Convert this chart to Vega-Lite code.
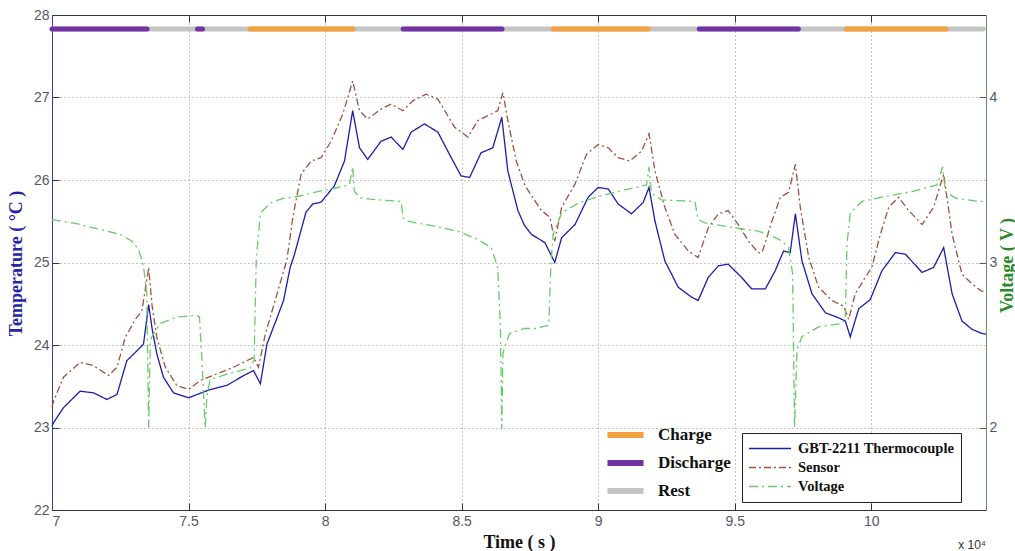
{
  "$schema": "https://vega.github.io/schema/vega-lite/v6.json",
  "width": 934,
  "height": 495,
  "autosize": {"type": "none"},
  "padding": {"left": 52, "top": 15, "right": 29, "bottom": 41},
  "background": "white",
  "config": {
    "view": {"stroke": null},
    "axis": {
      "labelFont": "Liberation Sans",
      "labelFontSize": 14,
      "labelColor": "#55556a",
      "gridColor": "#888888",
      "gridDash": [1, 3],
      "gridWidth": 1,
      "tickColor": "#333333",
      "tickSize": -7,
      "domainColor": "#333333",
      "titleFont": "Liberation Serif",
      "titleFontWeight": "bold",
      "titleFontSize": 18
    },
    "legend": {
      "labelFont": "Liberation Serif",
      "labelFontWeight": "bold",
      "labelColor": "#111111"
    }
  },
  "title": {
    "text": "x 10⁴",
    "orient": "bottom",
    "anchor": "end",
    "frame": "group",
    "font": "Liberation Sans",
    "fontSize": 12,
    "fontWeight": "normal",
    "color": "#333333",
    "offset": -11
  },
  "datasets": {
    "phases": [
      {"phase": "Rest", "start": 70000, "end": 104100},
      {"phase": "Discharge", "start": 70000, "end": 73480},
      {"phase": "Discharge", "start": 75330, "end": 75510},
      {"phase": "Charge", "start": 77250, "end": 81030},
      {"phase": "Discharge", "start": 82860, "end": 86480},
      {"phase": "Charge", "start": 88350, "end": 91830},
      {"phase": "Discharge", "start": 93700, "end": 97330},
      {"phase": "Charge", "start": 99080, "end": 102750}
    ],
    "temps": [
      {"time": 70000, "series": "GBT-2211 Thermocouple", "temp": 23.02},
      {"time": 70060, "series": "GBT-2211 Thermocouple", "temp": 23.06},
      {"time": 70420, "series": "GBT-2211 Thermocouple", "temp": 23.24},
      {"time": 71030, "series": "GBT-2211 Thermocouple", "temp": 23.44},
      {"time": 71520, "series": "GBT-2211 Thermocouple", "temp": 23.42},
      {"time": 72010, "series": "GBT-2211 Thermocouple", "temp": 23.34},
      {"time": 72380, "series": "GBT-2211 Thermocouple", "temp": 23.40},
      {"time": 72740, "series": "GBT-2211 Thermocouple", "temp": 23.81},
      {"time": 73110, "series": "GBT-2211 Thermocouple", "temp": 23.93},
      {"time": 73350, "series": "GBT-2211 Thermocouple", "temp": 24.01},
      {"time": 73540, "series": "GBT-2211 Thermocouple", "temp": 24.49},
      {"time": 73660, "series": "GBT-2211 Thermocouple", "temp": 24.21},
      {"time": 73840, "series": "GBT-2211 Thermocouple", "temp": 23.89},
      {"time": 74080, "series": "GBT-2211 Thermocouple", "temp": 23.61},
      {"time": 74450, "series": "GBT-2211 Thermocouple", "temp": 23.42},
      {"time": 75000, "series": "GBT-2211 Thermocouple", "temp": 23.36},
      {"time": 75310, "series": "GBT-2211 Thermocouple", "temp": 23.40},
      {"time": 75790, "series": "GBT-2211 Thermocouple", "temp": 23.46},
      {"time": 76400, "series": "GBT-2211 Thermocouple", "temp": 23.51},
      {"time": 77020, "series": "GBT-2211 Thermocouple", "temp": 23.63},
      {"time": 77380, "series": "GBT-2211 Thermocouple", "temp": 23.69},
      {"time": 77630, "series": "GBT-2211 Thermocouple", "temp": 23.53},
      {"time": 77870, "series": "GBT-2211 Thermocouple", "temp": 24.01},
      {"time": 78240, "series": "GBT-2211 Thermocouple", "temp": 24.33},
      {"time": 78480, "series": "GBT-2211 Thermocouple", "temp": 24.54},
      {"time": 78720, "series": "GBT-2211 Thermocouple", "temp": 24.94},
      {"time": 78880, "series": "GBT-2211 Thermocouple", "temp": 25.10},
      {"time": 79300, "series": "GBT-2211 Thermocouple", "temp": 25.61},
      {"time": 79550, "series": "GBT-2211 Thermocouple", "temp": 25.71},
      {"time": 79850, "series": "GBT-2211 Thermocouple", "temp": 25.73},
      {"time": 80340, "series": "GBT-2211 Thermocouple", "temp": 25.93},
      {"time": 80710, "series": "GBT-2211 Thermocouple", "temp": 26.23},
      {"time": 81010, "series": "GBT-2211 Thermocouple", "temp": 26.84},
      {"time": 81260, "series": "GBT-2211 Thermocouple", "temp": 26.39},
      {"time": 81560, "series": "GBT-2211 Thermocouple", "temp": 26.25},
      {"time": 82050, "series": "GBT-2211 Thermocouple", "temp": 26.47},
      {"time": 82420, "series": "GBT-2211 Thermocouple", "temp": 26.52},
      {"time": 82850, "series": "GBT-2211 Thermocouple", "temp": 26.37},
      {"time": 83150, "series": "GBT-2211 Thermocouple", "temp": 26.58},
      {"time": 83640, "series": "GBT-2211 Thermocouple", "temp": 26.68},
      {"time": 84130, "series": "GBT-2211 Thermocouple", "temp": 26.58},
      {"time": 84620, "series": "GBT-2211 Thermocouple", "temp": 26.27},
      {"time": 84980, "series": "GBT-2211 Thermocouple", "temp": 26.05},
      {"time": 85290, "series": "GBT-2211 Thermocouple", "temp": 26.03},
      {"time": 85710, "series": "GBT-2211 Thermocouple", "temp": 26.33},
      {"time": 86140, "series": "GBT-2211 Thermocouple", "temp": 26.39},
      {"time": 86470, "series": "GBT-2211 Thermocouple", "temp": 26.76},
      {"time": 86690, "series": "GBT-2211 Thermocouple", "temp": 26.11},
      {"time": 87060, "series": "GBT-2211 Thermocouple", "temp": 25.63},
      {"time": 87300, "series": "GBT-2211 Thermocouple", "temp": 25.45},
      {"time": 87560, "series": "GBT-2211 Thermocouple", "temp": 25.34},
      {"time": 88050, "series": "GBT-2211 Thermocouple", "temp": 25.24},
      {"time": 88410, "series": "GBT-2211 Thermocouple", "temp": 25.00},
      {"time": 88660, "series": "GBT-2211 Thermocouple", "temp": 25.30},
      {"time": 89150, "series": "GBT-2211 Thermocouple", "temp": 25.46},
      {"time": 89630, "series": "GBT-2211 Thermocouple", "temp": 25.79},
      {"time": 90000, "series": "GBT-2211 Thermocouple", "temp": 25.91},
      {"time": 90370, "series": "GBT-2211 Thermocouple", "temp": 25.89},
      {"time": 90730, "series": "GBT-2211 Thermocouple", "temp": 25.71},
      {"time": 91220, "series": "GBT-2211 Thermocouple", "temp": 25.59},
      {"time": 91650, "series": "GBT-2211 Thermocouple", "temp": 25.73},
      {"time": 91860, "series": "GBT-2211 Thermocouple", "temp": 25.91},
      {"time": 92080, "series": "GBT-2211 Thermocouple", "temp": 25.50},
      {"time": 92440, "series": "GBT-2211 Thermocouple", "temp": 25.02},
      {"time": 92930, "series": "GBT-2211 Thermocouple", "temp": 24.70},
      {"time": 93420, "series": "GBT-2211 Thermocouple", "temp": 24.58},
      {"time": 93660, "series": "GBT-2211 Thermocouple", "temp": 24.54},
      {"time": 94030, "series": "GBT-2211 Thermocouple", "temp": 24.82},
      {"time": 94400, "series": "GBT-2211 Thermocouple", "temp": 24.96},
      {"time": 94760, "series": "GBT-2211 Thermocouple", "temp": 24.98},
      {"time": 95250, "series": "GBT-2211 Thermocouple", "temp": 24.82},
      {"time": 95620, "series": "GBT-2211 Thermocouple", "temp": 24.68},
      {"time": 96120, "series": "GBT-2211 Thermocouple", "temp": 24.68},
      {"time": 96480, "series": "GBT-2211 Thermocouple", "temp": 24.90},
      {"time": 96790, "series": "GBT-2211 Thermocouple", "temp": 25.14},
      {"time": 97030, "series": "GBT-2211 Thermocouple", "temp": 25.12},
      {"time": 97220, "series": "GBT-2211 Thermocouple", "temp": 25.59},
      {"time": 97460, "series": "GBT-2211 Thermocouple", "temp": 25.02},
      {"time": 97830, "series": "GBT-2211 Thermocouple", "temp": 24.62},
      {"time": 98320, "series": "GBT-2211 Thermocouple", "temp": 24.39},
      {"time": 98800, "series": "GBT-2211 Thermocouple", "temp": 24.33},
      {"time": 99050, "series": "GBT-2211 Thermocouple", "temp": 24.29},
      {"time": 99230, "series": "GBT-2211 Thermocouple", "temp": 24.10},
      {"time": 99540, "series": "GBT-2211 Thermocouple", "temp": 24.44},
      {"time": 99960, "series": "GBT-2211 Thermocouple", "temp": 24.55},
      {"time": 100390, "series": "GBT-2211 Thermocouple", "temp": 24.90},
      {"time": 100880, "series": "GBT-2211 Thermocouple", "temp": 25.12},
      {"time": 101250, "series": "GBT-2211 Thermocouple", "temp": 25.10},
      {"time": 101860, "series": "GBT-2211 Thermocouple", "temp": 24.88},
      {"time": 102280, "series": "GBT-2211 Thermocouple", "temp": 24.94},
      {"time": 102650, "series": "GBT-2211 Thermocouple", "temp": 25.18},
      {"time": 102960, "series": "GBT-2211 Thermocouple", "temp": 24.62},
      {"time": 103320, "series": "GBT-2211 Thermocouple", "temp": 24.29},
      {"time": 103690, "series": "GBT-2211 Thermocouple", "temp": 24.19},
      {"time": 104050, "series": "GBT-2211 Thermocouple", "temp": 24.14},
      {"time": 104200, "series": "GBT-2211 Thermocouple", "temp": 24.13},
      {"time": 70000, "series": "Sensor", "temp": 23.25},
      {"time": 70060, "series": "Sensor", "temp": 23.32},
      {"time": 70420, "series": "Sensor", "temp": 23.61},
      {"time": 71030, "series": "Sensor", "temp": 23.79},
      {"time": 71520, "series": "Sensor", "temp": 23.75},
      {"time": 72070, "series": "Sensor", "temp": 23.63},
      {"time": 72380, "series": "Sensor", "temp": 23.73},
      {"time": 72680, "series": "Sensor", "temp": 24.09},
      {"time": 73050, "series": "Sensor", "temp": 24.31},
      {"time": 73290, "series": "Sensor", "temp": 24.41},
      {"time": 73540, "series": "Sensor", "temp": 24.94},
      {"time": 73660, "series": "Sensor", "temp": 24.49},
      {"time": 73840, "series": "Sensor", "temp": 24.09},
      {"time": 74150, "series": "Sensor", "temp": 23.73},
      {"time": 74570, "series": "Sensor", "temp": 23.51},
      {"time": 75000, "series": "Sensor", "temp": 23.46},
      {"time": 75430, "series": "Sensor", "temp": 23.57},
      {"time": 76040, "series": "Sensor", "temp": 23.65},
      {"time": 76650, "series": "Sensor", "temp": 23.73},
      {"time": 77380, "series": "Sensor", "temp": 23.85},
      {"time": 77560, "series": "Sensor", "temp": 23.73},
      {"time": 77810, "series": "Sensor", "temp": 24.13},
      {"time": 78240, "series": "Sensor", "temp": 24.62},
      {"time": 78600, "series": "Sensor", "temp": 25.03},
      {"time": 78820, "series": "Sensor", "temp": 25.55},
      {"time": 79120, "series": "Sensor", "temp": 26.07},
      {"time": 79490, "series": "Sensor", "temp": 26.23},
      {"time": 79850, "series": "Sensor", "temp": 26.27},
      {"time": 80220, "series": "Sensor", "temp": 26.47},
      {"time": 80650, "series": "Sensor", "temp": 26.80},
      {"time": 81010, "series": "Sensor", "temp": 27.20},
      {"time": 81260, "series": "Sensor", "temp": 26.84},
      {"time": 81560, "series": "Sensor", "temp": 26.74},
      {"time": 82050, "series": "Sensor", "temp": 26.86},
      {"time": 82420, "series": "Sensor", "temp": 26.92},
      {"time": 82850, "series": "Sensor", "temp": 26.84},
      {"time": 83210, "series": "Sensor", "temp": 26.96},
      {"time": 83700, "series": "Sensor", "temp": 27.04},
      {"time": 84130, "series": "Sensor", "temp": 26.98},
      {"time": 84740, "series": "Sensor", "temp": 26.64},
      {"time": 85230, "series": "Sensor", "temp": 26.52},
      {"time": 85590, "series": "Sensor", "temp": 26.72},
      {"time": 86080, "series": "Sensor", "temp": 26.80},
      {"time": 86320, "series": "Sensor", "temp": 26.84},
      {"time": 86510, "series": "Sensor", "temp": 27.06},
      {"time": 86690, "series": "Sensor", "temp": 26.72},
      {"time": 87000, "series": "Sensor", "temp": 26.23},
      {"time": 87300, "series": "Sensor", "temp": 25.95},
      {"time": 87440, "series": "Sensor", "temp": 25.87},
      {"time": 87920, "series": "Sensor", "temp": 25.63},
      {"time": 88230, "series": "Sensor", "temp": 25.55},
      {"time": 88410, "series": "Sensor", "temp": 25.26},
      {"time": 88660, "series": "Sensor", "temp": 25.67},
      {"time": 89150, "series": "Sensor", "temp": 25.95},
      {"time": 89570, "series": "Sensor", "temp": 26.31},
      {"time": 90000, "series": "Sensor", "temp": 26.43},
      {"time": 90370, "series": "Sensor", "temp": 26.39},
      {"time": 90730, "series": "Sensor", "temp": 26.27},
      {"time": 91160, "series": "Sensor", "temp": 26.23},
      {"time": 91590, "series": "Sensor", "temp": 26.35},
      {"time": 91860, "series": "Sensor", "temp": 26.56},
      {"time": 92080, "series": "Sensor", "temp": 26.11},
      {"time": 92440, "series": "Sensor", "temp": 25.67},
      {"time": 92810, "series": "Sensor", "temp": 25.34},
      {"time": 93300, "series": "Sensor", "temp": 25.14},
      {"time": 93660, "series": "Sensor", "temp": 25.06},
      {"time": 94030, "series": "Sensor", "temp": 25.42},
      {"time": 94400, "series": "Sensor", "temp": 25.59},
      {"time": 94760, "series": "Sensor", "temp": 25.63},
      {"time": 95130, "series": "Sensor", "temp": 25.46},
      {"time": 95500, "series": "Sensor", "temp": 25.26},
      {"time": 95860, "series": "Sensor", "temp": 25.12},
      {"time": 96000, "series": "Sensor", "temp": 25.12},
      {"time": 96360, "series": "Sensor", "temp": 25.50},
      {"time": 96670, "series": "Sensor", "temp": 25.79},
      {"time": 96970, "series": "Sensor", "temp": 25.85},
      {"time": 97220, "series": "Sensor", "temp": 26.19},
      {"time": 97400, "series": "Sensor", "temp": 25.67},
      {"time": 97710, "series": "Sensor", "temp": 25.06},
      {"time": 98070, "series": "Sensor", "temp": 24.70},
      {"time": 98560, "series": "Sensor", "temp": 24.54},
      {"time": 98990, "series": "Sensor", "temp": 24.47},
      {"time": 99170, "series": "Sensor", "temp": 24.31},
      {"time": 99410, "series": "Sensor", "temp": 24.62},
      {"time": 99780, "series": "Sensor", "temp": 24.82},
      {"time": 100020, "series": "Sensor", "temp": 24.94},
      {"time": 100330, "series": "Sensor", "temp": 25.34},
      {"time": 100640, "series": "Sensor", "temp": 25.67},
      {"time": 101000, "series": "Sensor", "temp": 25.79},
      {"time": 101370, "series": "Sensor", "temp": 25.63},
      {"time": 101860, "series": "Sensor", "temp": 25.46},
      {"time": 102280, "series": "Sensor", "temp": 25.67},
      {"time": 102650, "series": "Sensor", "temp": 26.07},
      {"time": 102960, "series": "Sensor", "temp": 25.34},
      {"time": 103320, "series": "Sensor", "temp": 24.86},
      {"time": 103690, "series": "Sensor", "temp": 24.74},
      {"time": 104000, "series": "Sensor", "temp": 24.66},
      {"time": 104200, "series": "Sensor", "temp": 24.64}
    ],
    "volt": [
      {"time": 70000, "series": "Voltage", "voltage": 3.26},
      {"time": 70910, "series": "Voltage", "voltage": 3.235},
      {"time": 71770, "series": "Voltage", "voltage": 3.20},
      {"time": 72500, "series": "Voltage", "voltage": 3.17},
      {"time": 72920, "series": "Voltage", "voltage": 3.13},
      {"time": 73170, "series": "Voltage", "voltage": 3.08},
      {"time": 73350, "series": "Voltage", "voltage": 2.98},
      {"time": 73470, "series": "Voltage", "voltage": 2.81},
      {"time": 73540, "series": "Voltage", "voltage": 2.00},
      {"time": 73600, "series": "Voltage", "voltage": 2.53},
      {"time": 73660, "series": "Voltage", "voltage": 2.55},
      {"time": 73960, "series": "Voltage", "voltage": 2.63},
      {"time": 74570, "series": "Voltage", "voltage": 2.67},
      {"time": 75310, "series": "Voltage", "voltage": 2.68},
      {"time": 75400, "series": "Voltage", "voltage": 2.67},
      {"time": 75490, "series": "Voltage", "voltage": 2.41},
      {"time": 75610, "series": "Voltage", "voltage": 2.00},
      {"time": 75670, "series": "Voltage", "voltage": 2.19},
      {"time": 75790, "series": "Voltage", "voltage": 2.29},
      {"time": 76530, "series": "Voltage", "voltage": 2.33},
      {"time": 77260, "series": "Voltage", "voltage": 2.36},
      {"time": 77400, "series": "Voltage", "voltage": 2.41},
      {"time": 77480, "series": "Voltage", "voltage": 3.02},
      {"time": 77630, "series": "Voltage", "voltage": 3.30},
      {"time": 77990, "series": "Voltage", "voltage": 3.36},
      {"time": 78480, "series": "Voltage", "voltage": 3.39},
      {"time": 79000, "series": "Voltage", "voltage": 3.40},
      {"time": 79730, "series": "Voltage", "voltage": 3.43},
      {"time": 80340, "series": "Voltage", "voltage": 3.45},
      {"time": 80890, "series": "Voltage", "voltage": 3.47},
      {"time": 81010, "series": "Voltage", "voltage": 3.58},
      {"time": 81070, "series": "Voltage", "voltage": 3.43},
      {"time": 81320, "series": "Voltage", "voltage": 3.39},
      {"time": 81930, "series": "Voltage", "voltage": 3.38},
      {"time": 82780, "series": "Voltage", "voltage": 3.37},
      {"time": 82860, "series": "Voltage", "voltage": 3.27},
      {"time": 83030, "series": "Voltage", "voltage": 3.25},
      {"time": 84000, "series": "Voltage", "voltage": 3.22},
      {"time": 84860, "series": "Voltage", "voltage": 3.19},
      {"time": 85590, "series": "Voltage", "voltage": 3.14},
      {"time": 86080, "series": "Voltage", "voltage": 3.09},
      {"time": 86320, "series": "Voltage", "voltage": 2.97},
      {"time": 86420, "series": "Voltage", "voltage": 2.61},
      {"time": 86470, "series": "Voltage", "voltage": 1.99},
      {"time": 86510, "series": "Voltage", "voltage": 2.45},
      {"time": 86750, "series": "Voltage", "voltage": 2.57},
      {"time": 87300, "series": "Voltage", "voltage": 2.60},
      {"time": 87680, "series": "Voltage", "voltage": 2.60},
      {"time": 88190, "series": "Voltage", "voltage": 2.62},
      {"time": 88270, "series": "Voltage", "voltage": 3.00},
      {"time": 88350, "series": "Voltage", "voltage": 3.17},
      {"time": 88660, "series": "Voltage", "voltage": 3.30},
      {"time": 89270, "series": "Voltage", "voltage": 3.36},
      {"time": 90000, "series": "Voltage", "voltage": 3.40},
      {"time": 90980, "series": "Voltage", "voltage": 3.44},
      {"time": 91770, "series": "Voltage", "voltage": 3.47},
      {"time": 91860, "series": "Voltage", "voltage": 3.58},
      {"time": 91950, "series": "Voltage", "voltage": 3.42},
      {"time": 92320, "series": "Voltage", "voltage": 3.38},
      {"time": 93540, "series": "Voltage", "voltage": 3.37},
      {"time": 93660, "series": "Voltage", "voltage": 3.26},
      {"time": 93910, "series": "Voltage", "voltage": 3.24},
      {"time": 95010, "series": "Voltage", "voltage": 3.21},
      {"time": 95860, "series": "Voltage", "voltage": 3.19},
      {"time": 96240, "series": "Voltage", "voltage": 3.17},
      {"time": 96730, "series": "Voltage", "voltage": 3.13},
      {"time": 96970, "series": "Voltage", "voltage": 3.09},
      {"time": 97120, "series": "Voltage", "voltage": 2.93},
      {"time": 97190, "series": "Voltage", "voltage": 2.00},
      {"time": 97280, "series": "Voltage", "voltage": 2.47},
      {"time": 97460, "series": "Voltage", "voltage": 2.55},
      {"time": 98070, "series": "Voltage", "voltage": 2.61},
      {"time": 98930, "series": "Voltage", "voltage": 2.63},
      {"time": 99050, "series": "Voltage", "voltage": 2.67},
      {"time": 99110, "series": "Voltage", "voltage": 3.11},
      {"time": 99230, "series": "Voltage", "voltage": 3.30},
      {"time": 99660, "series": "Voltage", "voltage": 3.37},
      {"time": 100510, "series": "Voltage", "voltage": 3.40},
      {"time": 101490, "series": "Voltage", "voltage": 3.43},
      {"time": 102410, "series": "Voltage", "voltage": 3.47},
      {"time": 102610, "series": "Voltage", "voltage": 3.58},
      {"time": 102710, "series": "Voltage", "voltage": 3.43},
      {"time": 103080, "series": "Voltage", "voltage": 3.39},
      {"time": 103930, "series": "Voltage", "voltage": 3.37},
      {"time": 104200, "series": "Voltage", "voltage": 3.37}
    ]
  },
  "layer": [
    {
      "layer": [
        {
          "data": {"name": "phases"},
          "mark": {"type": "rule", "strokeWidth": 5, "strokeCap": "round"},
          "encoding": {
            "x": {"field": "start", "type": "quantitative", "scale": {"domain": [70000, 104200], "nice": false, "zero": false},
              "axis": {"values": [70000, 75000, 80000, 85000, 90000, 95000, 100000], "labelExpr": "datum.value / 10000", "title": "Time ( s )", "titleColor": "#111111", "titlePadding": 5, "labelPadding": 11, "grid": true}},
            "x2": {"field": "end"},
            "y": {"datum": 27.83, "type": "quantitative"},
            "color": {"field": "phase", "type": "nominal",
              "scale": {"domain": ["Charge", "Discharge", "Rest"], "range": ["#f5a040", "#7132a3", "#c4c4c4"]},
              "legend": {"title": null, "orient": "none", "legendX": 552, "legendY": 406, "symbolType": "stroke", "symbolStrokeWidth": 6, "symbolSize": 1300, "labelFontSize": 17, "rowPadding": 0, "clipHeight": 28, "labelOffset": 11}}
          }
        },
        {
          "data": {"name": "temps"},
          "mark": {"type": "line", "strokeWidth": 1.3},
          "encoding": {
            "x": {"field": "time", "type": "quantitative"},
            "y": {"field": "temp", "type": "quantitative",
              "scale": {"domain": [22, 28], "nice": false, "zero": false},
              "axis": {"values": [22, 23, 24, 25, 26, 27, 28], "format": "d", "title": "Temperature ( °C )", "titleColor": "#2525a5", "domainColor": "#3a3aa0", "grid": true, "titleX": -27, "titleY": 248, "labelPadding": 10}},
            "stroke": {"field": "series", "type": "nominal",
              "scale": {"domain": ["GBT-2211 Thermocouple", "Sensor", "Voltage"], "range": ["#1c1ca8", "#a0503c", "#66cc66"]},
              "legend": {"title": null, "orient": "none", "legendX": 690, "legendY": 418, "symbolType": "stroke", "symbolSize": 1764, "symbolStrokeWidth": 1.5, "labelFontSize": 14.5, "labelOffset": 6, "strokeColor": "#222222", "fillColor": "white", "padding": 6, "rowPadding": 0, "clipHeight": 19}},
            "strokeDash": {"field": "series", "type": "nominal",
              "scale": {"domain": ["GBT-2211 Thermocouple", "Sensor", "Voltage"], "range": [[1, 0], [7, 3, 2, 3], [9, 4, 2, 4]]},
              "legend": {"title": null, "orient": "none", "legendX": 690, "legendY": 418}}
          }
        }
      ]
    },
    {
      "data": {"name": "volt"},
      "mark": {"type": "line", "strokeWidth": 1.3},
      "encoding": {
        "x": {"field": "time", "type": "quantitative",
          "axis": {"orient": "top", "labels": false, "title": null, "grid": false, "values": [70000, 75000, 80000, 85000, 90000, 95000, 100000]}},
        "y": {"field": "voltage", "type": "quantitative",
          "scale": {"domain": [1.5, 4.5], "nice": false, "zero": false},
          "axis": {"orient": "right", "values": [2, 3, 4], "format": "d", "title": "Voltage ( V )", "titleColor": "#2a8a2a", "titleAngle": 270, "titleX": 30, "titleY": 250, "domainColor": "#5a9a5a", "tickColor": "#555555", "grid": false, "labelPadding": 10}},
        "stroke": {"field": "series", "type": "nominal"},
        "strokeDash": {"field": "series", "type": "nominal"}
      }
    }
  ],
  "resolve": {"scale": {"y": "independent"}, "axis": {"x": "independent"}}
}
